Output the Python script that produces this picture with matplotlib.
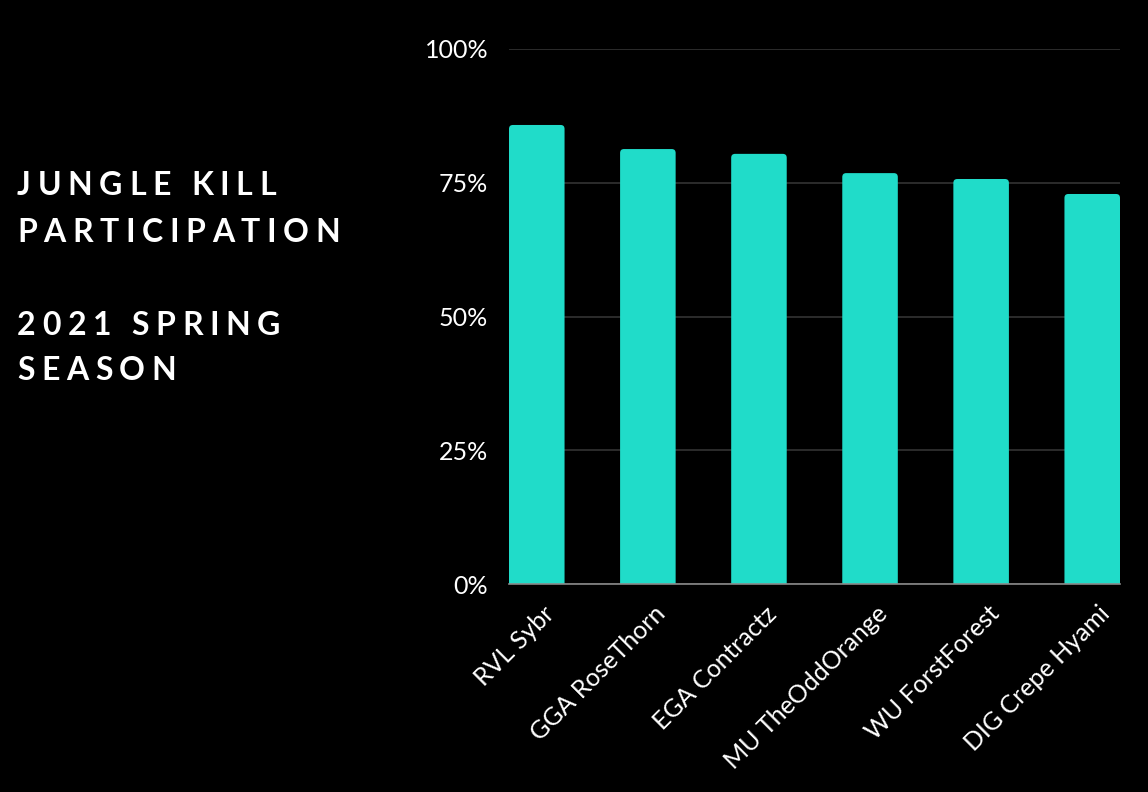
import matplotlib
matplotlib.use("Agg")
import matplotlib.pyplot as plt
from matplotlib.patches import FancyBboxPatch
from matplotlib.ticker import PercentFormatter
from matplotlib.transforms import ScaledTranslation

players = ["RVL Sybr", "GGA RoseThorn", "EGA Contractz", "MU TheOddOrange",
           "WU ForstForest", "DIG Crepe Hyami"]
kill_part = [0.858, 0.813, 0.804, 0.768, 0.757, 0.729]
y_ticks = [0, 0.25, 0.5, 0.75, 1.0]

title_lines = ["JUNGLE KILL", "PARTICIPATION", "", "2021 SPRING", "SEASON"]

BAR = "#20DCC9"
plt.rcParams["font.family"] = ["Lato", "DejaVu Sans"]

fig = plt.figure(figsize=(11.48, 7.92), dpi=100, facecolor="black")
ax = fig.add_axes([509 / 1148, 1 - 584 / 792, 611 / 1148, 535 / 792])
ax.set_facecolor("black")

x = range(len(players))
bars = ax.bar(x, kill_part, width=0.5, color=BAR, zorder=3)
# swap plain rectangles for ones with slightly rounded tops
for b in bars:
    p = FancyBboxPatch((b.get_x(), -0.02), b.get_width(), b.get_height() + 0.02,
                       boxstyle="round,pad=0,rounding_size=0.035",
                       mutation_aspect=111 / 535, facecolor=BAR,
                       edgecolor="none", zorder=3)
    ax.add_patch(p)
    b.remove()

ax.set_xlim(-0.25, len(players) - 0.75)
ax.set_ylim(0, 1.0)
ax.set_yticks(y_ticks)
ax.yaxis.set_major_formatter(PercentFormatter(1.0, decimals=0))
ax.grid(axis="y", color="#333333", linewidth=1.2, zorder=0)
for s in ["top", "right", "left"]:
    ax.spines[s].set_visible(False)
ax.spines["bottom"].set_color("#8a8a8a")
ax.spines["bottom"].set_linewidth(1.2)
ax.spines["bottom"].set_zorder(4)
ax.tick_params(axis="both", length=0, colors="white", labelsize=18)
ax.tick_params(axis="y", pad=15)
ax.set_xticks(list(x))
ax.set_xticklabels(players, rotation=45, ha="right", rotation_mode="anchor")
ax.tick_params(axis="x", pad=13)
shift = ScaledTranslation(6 / 100, 0, fig.dpi_scale_trans)
for lbl in ax.get_xticklabels():
    lbl.set_transform(lbl.get_transform() + shift)

# letter-spaced title, placed one glyph at a time
fig.canvas.draw()
r = fig.canvas.get_renderer()
fs = 23
track = 6.6  # px between letters
baselines = [195, 242, 0, 335, 380]
for line, yb in zip(title_lines, baselines):
    if not line:
        continue
    xp = 17
    for ch in line:
        if ch == " ":
            xp += 14
            continue
        t = fig.text(xp / 1148, 1 - yb / 792, ch, color="white", fontsize=fs,
                     fontweight="bold", ha="left", va="baseline")
        w = t.get_window_extent(renderer=r).width
        xp += w + track

fig.savefig("out.png", dpi=100, facecolor="black")
